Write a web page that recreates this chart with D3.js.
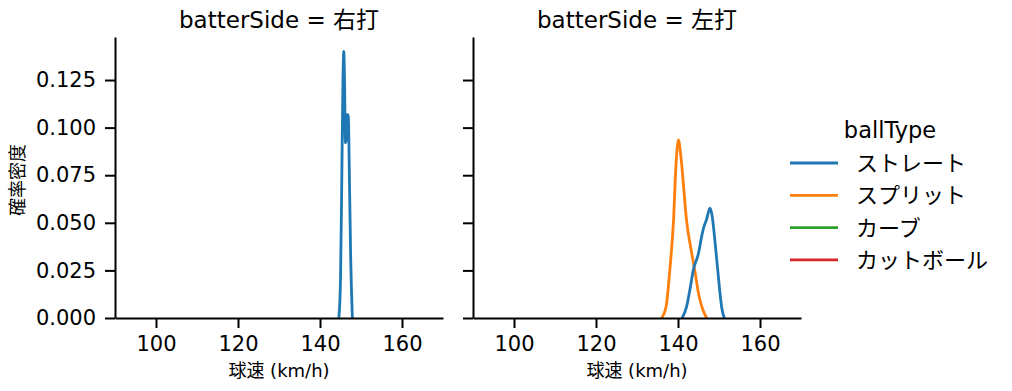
<!DOCTYPE html>
<html>
<head>
<meta charset="utf-8">
<script src="https://cdn.jsdelivr.net/npm/d3@7"></script>
<style>
  body { margin: 0; background: #fff; }
  text { font-family: "DejaVu Sans", "Noto Sans CJK JP", sans-serif; fill: #000; }
</style>
</head>
<body>
<div id="chart"></div>
<script>
// panels and legend entries
var panels = ["右打", "左打"];
var ballTypes = ["ストレート", "スプリット", "カーブ", "カットボール"];
var colors = ["#1f77b4", "#ff7f0e", "#2ca02c", "#d62728"];
var xTicks = [100, 120, 140, 160];
var yTicks = [0, 0.025, 0.05, 0.075, 0.1, 0.125];

// KDE curves: [speed, density]
var rightStraight = [[144.6,0],[145.0,0.02],[145.3,0.07],[145.6,0.125],[145.8,0.140],[146.0,0.122],[146.2,0.092],[146.4,0.094],[146.7,0.107],[146.9,0.106],[147.2,0.07],[147.5,0.03],[147.9,0]];
var leftSplit = [[136.0,0],[137.1,0.006],[138.0,0.025],[138.9,0.051],[139.5,0.08],[140.1,0.0935],[140.7,0.085],[141.4,0.068],[142.1,0.051],[143.1,0.037],[144.1,0.025],[145.0,0.013],[145.8,0.006],[147.0,0]];
var leftStraight = [[141.0,0],[142.1,0.006],[143.0,0.016],[143.7,0.025],[145.0,0.034],[145.7,0.042],[146.2,0.047],[147.0,0.052],[147.8,0.0577],[148.3,0.054],[148.8,0.045],[149.3,0.034],[149.7,0.025],[150.1,0.016],[150.7,0.005],[151.3,0]];

var curves = [
    [{type: 0, pts: rightStraight}],
    [{type: 1, pts: leftSplit}, {type: 0, pts: leftStraight}]
];

var w = 1012, h = 391;
var plotTop = 37, plotBottom = 318;
var lefts = [115, 473], pw = 328;

var svg = d3.select("#chart").append("svg")
    .attr("width", w)
    .attr("height", h);

var y = d3.scaleLinear().domain([0, 0.1476]).range([plotBottom, plotTop]);

panels.forEach(function (p, i) {
    var x = d3.scaleLinear().domain([90, 170]).range([lefts[i], lefts[i] + pw]);
    var g = svg.append("g");

    var line = d3.line()
        .x(function (d) { return x(d[0]); })
        .y(function (d) { return y(d[1]); })
        .curve(d3.curveMonotoneX);

    curves[i].forEach(function (c) {
        g.append("path")
            .attr("d", line(c.pts))
            .attr("fill", "none")
            .attr("stroke", colors[c.type])
            .attr("stroke-width", 2.8)
            .attr("stroke-linejoin", "round");
    });

    // x axis
    var xa = g.append("g")
        .attr("transform", "translate(0," + plotBottom + ")")
        .call(d3.axisBottom(x).tickValues(xTicks).tickSize(10).tickPadding(8).tickSizeOuter(0));
    xa.select(".domain").attr("stroke-width", 2);
    xa.selectAll(".tick line").attr("stroke-width", 2);
    xa.selectAll("text").style("font-size", "21px");

    // y axis
    var ya = g.append("g")
        .attr("transform", "translate(" + lefts[i] + ",0)")
        .call(d3.axisLeft(y).tickValues(yTicks).tickSize(10).tickPadding(9).tickSizeOuter(0)
            .tickFormat(i == 0 ? d3.format(".3f") : ""));
    ya.select(".domain").attr("stroke-width", 2);
    ya.selectAll(".tick line").attr("stroke-width", 2);
    ya.selectAll("text").style("font-size", "21px");
    xa.attr("font-family", null);
    ya.attr("font-family", null);

    g.append("text")
        .attr("x", lefts[i] + pw / 2)
        .attr("y", 28)
        .attr("text-anchor", "middle")
        .style("font-size", "23px")
        .text("batterSide = " + p);

    g.append("text")
        .attr("x", lefts[i] + pw / 2)
        .attr("y", 377)
        .attr("text-anchor", "middle")
        .style("font-size", "18px")
        .text("球速 (km/h)");
});

svg.append("text")
    .attr("transform", "translate(24,180) rotate(-90)")
    .attr("text-anchor", "middle")
    .style("font-size", "18px")
    .text("確率密度");

// legend
var lg = svg.append("g");
lg.append("text")
    .attr("x", 890)
    .attr("y", 138)
    .attr("text-anchor", "middle")
    .style("font-size", "22.5px")
    .text("ballType");

ballTypes.forEach(function (t, i) {
    var yy = 163 + i * 32.3;
    lg.append("line")
        .attr("x1", 790).attr("x2", 838)
        .attr("y1", yy).attr("y2", yy)
        .attr("stroke", colors[i])
        .attr("stroke-width", 2.8);
    lg.append("text")
        .attr("x", 856)
        .attr("y", yy)
        .attr("dy", "0.36em")
        .style("font-size", "22px")
        .text(t);
});
</script>
</body>
</html>
